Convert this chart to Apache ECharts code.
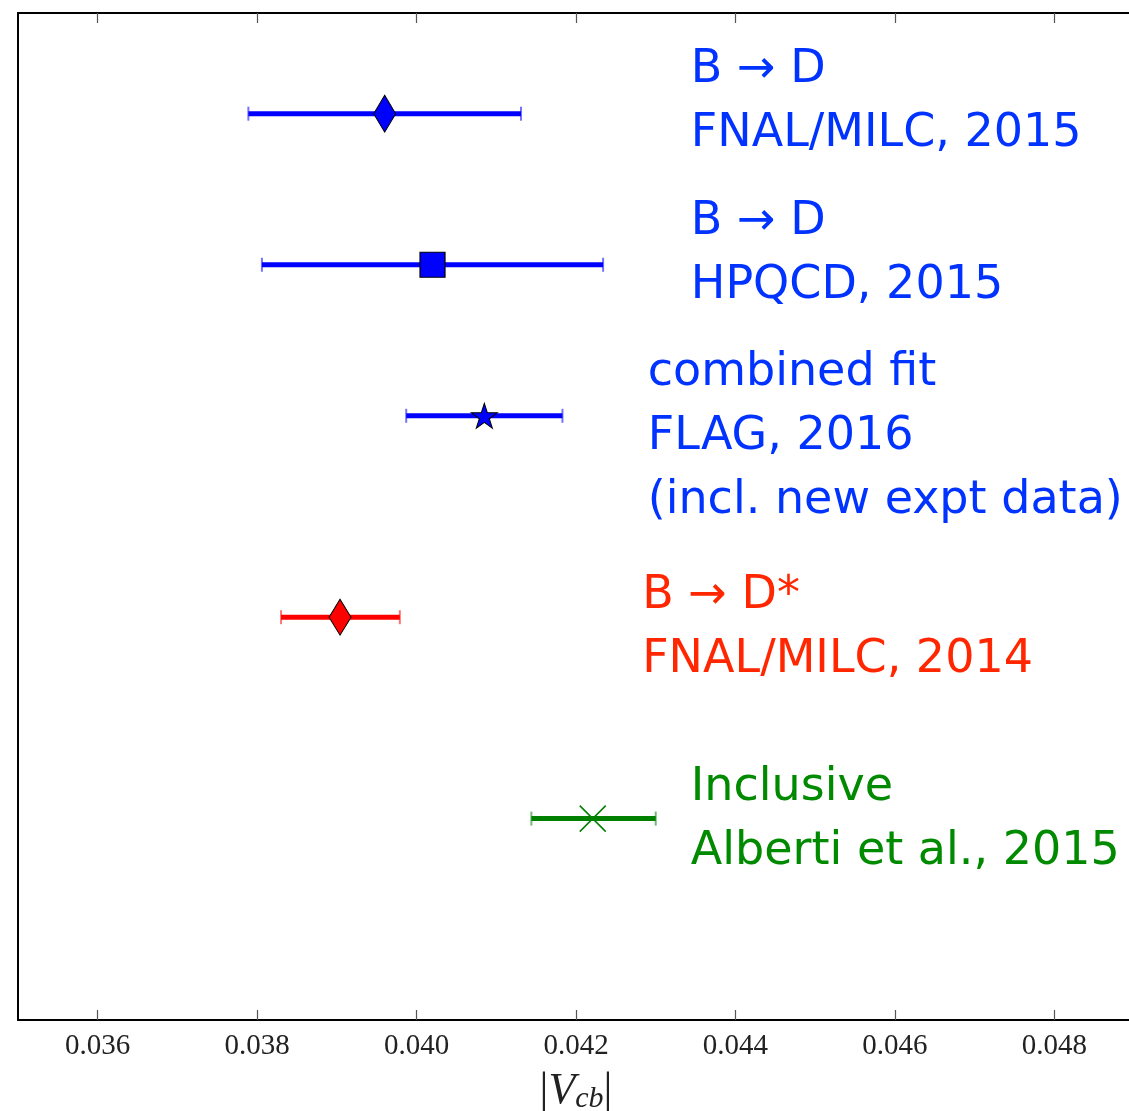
<!DOCTYPE html>
<html>
<head>
<meta charset="utf-8">
<script src="https://cdn.jsdelivr.net/npm/echarts@6/dist/echarts.min.js"></script>
<style>
html,body{margin:0;padding:0;background:#fff;}
#chart{width:1129px;height:1111px;}
</style>
</head>
<body>
<div id="chart"></div>
<script>
// ---- data ----
const names   = ['B → D\nFNAL/MILC, 2015', 'B → D\nHPQCD, 2015', 'combined fit\nFLAG, 2016\n(incl. new expt data)', 'B → D*\nFNAL/MILC, 2014', 'Inclusive\nAlberti et al., 2015'];
const centers = [0.03960, 0.04020, 0.04085, 0.03904, 0.04221];
const lows    = [0.03789, 0.03806, 0.03987, 0.03830, 0.04144];
const highs   = [0.04131, 0.04234, 0.04183, 0.03979, 0.04300];
const rows    = [4.5, 3.75, 3.0, 2.0, 1.0];
const labelX  = [0.04344, 0.04344, 0.04290, 0.04283, 0.04344];
const labelY  = [4.56, 3.805, 2.895, 1.945, 0.995];
const xTicks  = [0.036, 0.038, 0.040, 0.042, 0.044, 0.046, 0.048];

// ---- styles ----
const STAR = 'path://M50,0 L61.2,34.5 L97.6,34.5 L68.2,55.9 L79.4,90.5 L50,69.1 L20.6,90.5 L31.8,55.9 L2.4,34.5 L38.8,34.5 Z';
const styles = [
  {bar:'#0000ff', text:'#0033ff', symbol:'diamond', size:[22,37], fill:'#0000ff', border:'#000', bw:1},
  {bar:'#0000ff', text:'#0033ff', symbol:'rect', size:[25,25], fill:'#0000ff', border:'#000', bw:1.2},
  {bar:'#0000ff', text:'#0033ff', symbol:STAR, size:[26,25], fill:'#0000ff', border:'#000', bw:1},
  {bar:'#ff0000', text:'#ff2600', symbol:'diamond', size:[22,36], fill:'#ff0000', border:'#000', bw:1},
  {bar:'#008000', text:'#008a00', symbol:'path://M0,0L10,10M10,0L0,10', size:[26,26], fill:'none', border:'#008000', bw:1.5}
];

const series = [];
centers.forEach(function(c, i){
  const st = styles[i];
  series.push({
    type:'custom', z:2, silent:true,
    data:[[lows[i], highs[i], rows[i]]],
    renderItem:function(params, api){
      const a = api.coord([api.value(0), api.value(2)]);
      const b = api.coord([api.value(1), api.value(2)]);
      const capH = 7;
      return {type:'group', children:[
        {type:'line', shape:{x1:a[0], y1:a[1], x2:b[0], y2:b[1]}, style:{stroke:st.bar, lineWidth:5}},
        {type:'line', shape:{x1:a[0], y1:a[1]-capH, x2:a[0], y2:a[1]+capH}, style:{stroke:st.bar, lineWidth:2, opacity:0.55}},
        {type:'line', shape:{x1:b[0], y1:b[1]-capH, x2:b[0], y2:b[1]+capH}, style:{stroke:st.bar, lineWidth:2, opacity:0.55}}
      ]};
    }
  });
  series.push({
    type:'scatter', z:3, silent:true,
    symbol:st.symbol, symbolSize:st.size,
    itemStyle:{color:st.fill, borderColor:st.border, borderWidth:st.bw, opacity:1},
    data:[[c, rows[i]]]
  });
});

series.push({
  type:'scatter', z:4, silent:true, symbolSize:0,
  itemStyle:{opacity:1},
  data: names.map(function(n, i){
    return {value:[labelX[i], labelY[i]], name:n,
      label:{color:styles[i].text}};
  }),
  label:{show:true, position:[0,0], align:'left', verticalAlign:'middle', opacity:1,
    formatter:function(p){return p.name;},
    fontFamily:'DejaVu Sans, sans-serif', fontSize:46, lineHeight:64}
});

const chart = echarts.init(document.getElementById('chart'), null, {renderer:'canvas'});
chart.setOption({
  animation:false,
  backgroundColor:'#fff',
  grid:{left:18, right:-5, top:13, bottom:91, containLabel:false, outerBoundsMode:'none'},
  xAxis:[{
    type:'value', position:'bottom', min:0.035, max:0.049,
    axisLine:{show:true, lineStyle:{color:'#000', width:2}},
    axisTick:{show:true, inside:true, length:10, customValues:xTicks, lineStyle:{color:'#555', width:1.2}},
    axisLabel:{show:true, customValues:xTicks, margin:12, color:'#222',
      fontFamily:'Liberation Serif, DejaVu Serif, serif', fontSize:29,
      formatter:function(v){return v.toFixed(3);}},
    splitLine:{show:false},
    name:'|{v|V}{s|cb}|', nameLocation:'middle', nameGap:48,
    nameTextStyle:{color:'#222', fontFamily:'Liberation Serif, DejaVu Serif, serif', fontSize:44,
      rich:{v:{fontStyle:'italic', fontSize:44, fontFamily:'Liberation Serif, DejaVu Serif, serif', color:'#222'},
            s:{fontStyle:'italic', fontSize:30, fontFamily:'Liberation Serif, DejaVu Serif, serif', color:'#222', padding:[16,0,0,0]}}}
  },{
    type:'value', position:'top', min:0.035, max:0.049,
    axisLine:{show:true, lineStyle:{color:'#000', width:2}},
    axisTick:{show:true, inside:true, length:10, customValues:xTicks, lineStyle:{color:'#555', width:1.2}},
    axisLabel:{show:false}, splitLine:{show:false}
  }],
  yAxis:[{
    type:'value', min:0, max:5, position:'left',
    axisLine:{show:true, lineStyle:{color:'#000', width:2}},
    axisTick:{show:false}, axisLabel:{show:false}, splitLine:{show:false}
  }],
  series:series
});
</script>
</body>
</html>
